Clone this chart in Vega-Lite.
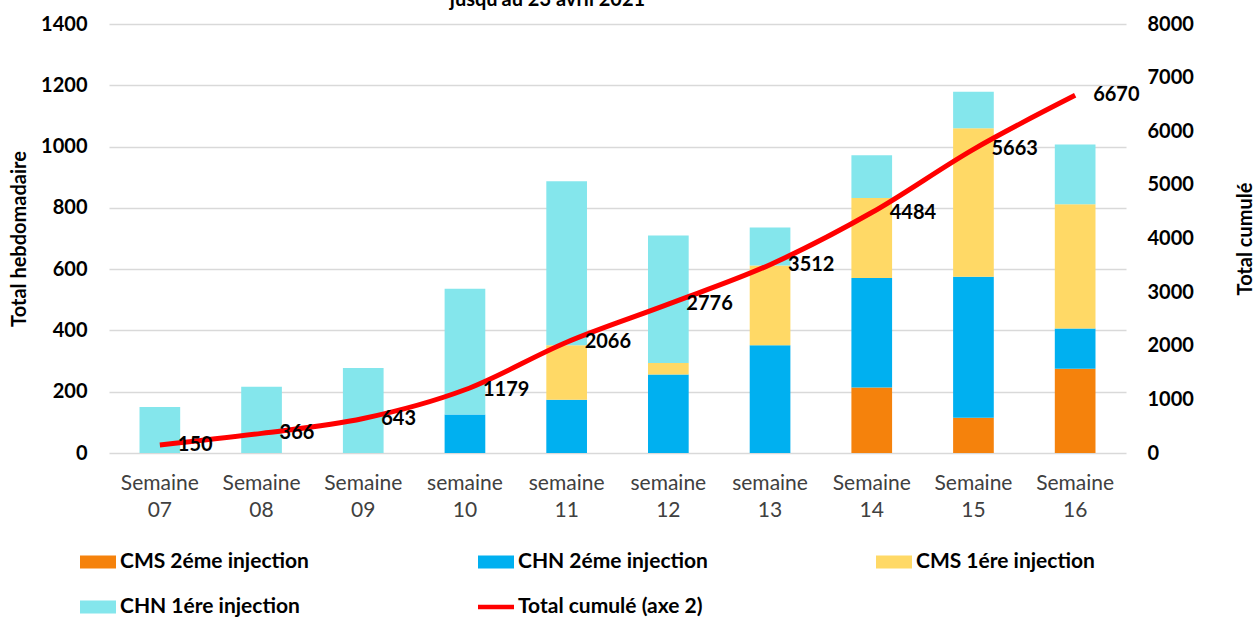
{
  "$schema": "https://vega.github.io/schema/vega-lite/v6.json",
  "autosize": {"type": "none"},
  "width": 1017,
  "height": 429,
  "padding": {"left": 109, "top": 24, "right": 132, "bottom": 165},
  "background": "white",
  "title": {"text": "jusqu'au 23 avril 2021", "font": "Lato", "fontSize": 20, "fontWeight": "bold", "color": "#000000", "anchor": "middle", "dx": -70, "baseline": "alphabetic", "offset": -12, "frame": "group"},
  "config": {"view": {"stroke": null}, "font": "Lato"},
  "datasets": {
    "bars": [
      {"semaine": "Semaine 07", "serie": "CHN 1ére injection", "valeur": 150},
      {"semaine": "Semaine 08", "serie": "CHN 1ére injection", "valeur": 216},
      {"semaine": "Semaine 09", "serie": "CHN 1ére injection", "valeur": 277},
      {"semaine": "semaine 10", "serie": "CHN  2éme injection", "valeur": 126},
      {"semaine": "semaine 10", "serie": "CHN 1ére injection", "valeur": 410},
      {"semaine": "semaine 11", "serie": "CHN  2éme injection", "valeur": 174},
      {"semaine": "semaine 11", "serie": "CMS 1ére injection", "valeur": 178},
      {"semaine": "semaine 11", "serie": "CHN 1ére injection", "valeur": 535},
      {"semaine": "semaine 12", "serie": "CHN  2éme injection", "valeur": 256},
      {"semaine": "semaine 12", "serie": "CMS 1ére injection", "valeur": 38},
      {"semaine": "semaine 12", "serie": "CHN 1ére injection", "valeur": 416},
      {"semaine": "semaine 13", "serie": "CHN  2éme injection", "valeur": 352},
      {"semaine": "semaine 13", "serie": "CMS 1ére injection", "valeur": 260},
      {"semaine": "semaine 13", "serie": "CHN 1ére injection", "valeur": 124},
      {"semaine": "Semaine 14", "serie": "CMS 2éme injection", "valeur": 214},
      {"semaine": "Semaine 14", "serie": "CHN  2éme injection", "valeur": 357},
      {"semaine": "Semaine 14", "serie": "CMS 1ére injection", "valeur": 261},
      {"semaine": "Semaine 14", "serie": "CHN 1ére injection", "valeur": 140},
      {"semaine": "Semaine 15", "serie": "CMS 2éme injection", "valeur": 115},
      {"semaine": "Semaine 15", "serie": "CHN  2éme injection", "valeur": 460},
      {"semaine": "Semaine 15", "serie": "CMS 1ére injection", "valeur": 485},
      {"semaine": "Semaine 15", "serie": "CHN 1ére injection", "valeur": 119},
      {"semaine": "Semaine 16", "serie": "CMS 2éme injection", "valeur": 275},
      {"semaine": "Semaine 16", "serie": "CHN  2éme injection", "valeur": 131},
      {"semaine": "Semaine 16", "serie": "CMS 1ére injection", "valeur": 406},
      {"semaine": "Semaine 16", "serie": "CHN 1ére injection", "valeur": 195}
    ],
    "cumul": [
      {"semaine": "Semaine 07", "total": 150},
      {"semaine": "Semaine 08", "total": 366},
      {"semaine": "Semaine 09", "total": 643},
      {"semaine": "semaine 10", "total": 1179},
      {"semaine": "semaine 11", "total": 2066},
      {"semaine": "semaine 12", "total": 2776},
      {"semaine": "semaine 13", "total": 3512},
      {"semaine": "Semaine 14", "total": 4484},
      {"semaine": "Semaine 15", "total": 5663},
      {"semaine": "Semaine 16", "total": 6670}
    ]
  },
  "encoding": {
    "x": {
      "field": "semaine", "type": "nominal",
      "scale": {"domain": ["Semaine 07", "Semaine 08", "Semaine 09", "semaine 10", "semaine 11", "semaine 12", "semaine 13", "Semaine 14", "Semaine 15", "Semaine 16"], "paddingInner": 0.6, "paddingOuter": 0.3},
      "axis": {"title": null, "labelAngle": 0, "labelExpr": "split(datum.label, ' ')", "labelFont": "Lato", "labelFontSize": 21, "labelColor": "#404040", "labelPadding": 19, "labelLineHeight": 27, "domain": false, "ticks": false, "grid": false}
    }
  },
  "layer": [
    {
      "data": {"name": "bars"},
      "transform": [
        {"calculate": "indexof(['CMS 2éme injection', 'CHN  2éme injection', 'CMS 1ére injection', 'CHN 1ére injection'], datum.serie)", "as": "ord"}
      ],
      "mark": {"type": "bar"},
      "encoding": {
        "y": {
          "field": "valeur", "type": "quantitative", "stack": "zero",
          "scale": {"domain": [0, 1400], "nice": false},
          "axis": {"title": "Total hebdomadaire", "values": [0, 200, 400, 600, 800, 1000, 1200, 1400], "format": "d", "grid": true, "gridColor": "#d9d9d9", "gridWidth": 1.5, "domain": false, "ticks": false, "labelFont": "Lato", "labelFontSize": 20, "labelFontWeight": "bold", "labelColor": "#000000", "labelPadding": 22, "titleFont": "Lato", "titleFontSize": 20, "titleFontWeight": "bold", "titleColor": "#000000", "titlePadding": 11}
        },
        "color": {
          "field": "serie", "type": "nominal",
          "scale": {"domain": ["CMS 2éme injection", "CHN  2éme injection", "CMS 1ére injection", "CHN 1ére injection", "Total cumulé (axe 2)"], "range": ["#F5820C", "#00B0F0", "#FFD966", "#84E6EC", "#FF0000"]},
          "legend": {
            "title": null, "orient": "none", "legendX": -29, "legendY": 520, "direction": "horizontal", "columns": 3, "gridAlign": "all", "columnPadding": 162, "rowPadding": 17,
            "symbolType": "M-1,-0.36H1V0.36H-1Z", "symbolSize": 1296, "symbolStrokeWidth": 0, "labelOffset": 4,
            "labelFont": "Lato", "labelFontSize": 21, "labelFontWeight": "bold", "labelColor": "#000000", "labelLimit": 400,
            "encode": {"symbols": {"update": {"shape": {"signal": "datum.label === 'Total cumulé (axe 2)' ? 'M-1,-0.12H1V0.12H-1Z' : 'M-1,-0.36H1V0.36H-1Z'"}}}}
          }
        },
        "order": {"field": "ord", "type": "quantitative"}
      }
    },
    {
      "data": {"name": "cumul"},
      "encoding": {
        "y": {
          "field": "total", "type": "quantitative",
          "scale": {"domain": [0, 8000], "nice": false},
          "axis": {"orient": "right", "title": "Total cumulé", "values": [0, 1000, 2000, 3000, 4000, 5000, 6000, 7000, 8000], "format": "d", "grid": false, "domain": false, "ticks": false, "labelFont": "Lato", "labelFontSize": 20, "labelFontWeight": "bold", "labelColor": "#000000", "labelPadding": 21, "titleFont": "Lato", "titleFontSize": 20, "titleFontWeight": "bold", "titleColor": "#000000", "titleAngle": 270, "titlePadding": 62}
        }
      },
      "layer": [
        {"mark": {"type": "line", "color": "#FF0000", "strokeWidth": 5, "interpolate": "monotone"}},
        {"mark": {"type": "text", "align": "left", "baseline": "middle", "dx": 18, "font": "Lato", "fontSize": 20, "fontWeight": "bold", "color": "#000000"},
         "encoding": {"text": {"field": "total", "type": "quantitative", "format": "d"}}}
      ]
    }
  ],
  "resolve": {"scale": {"y": "independent"}}
}
